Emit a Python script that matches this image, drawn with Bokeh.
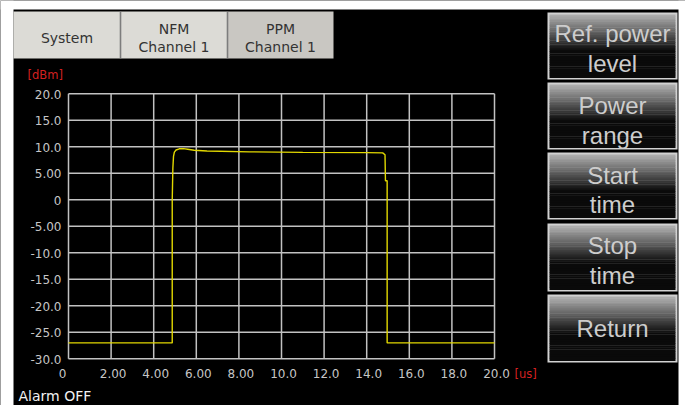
from bokeh.plotting import figure
from bokeh.models import Range1d
from bokeh.core.properties import value
from bokeh.embed import file_html
from bokeh.resources import INLINE

# ---------------- data ----------------
time_us = [0.0, 4.87, 4.87, 4.90, 4.93, 4.97, 5.05, 5.20, 5.40, 5.60, 5.90, 6.50,
           8.50, 11.0, 14.0, 14.75, 14.86, 14.88, 14.96, 14.96, 20.0]
power_dbm = [-27.0, -27.0, 0.0, 6.0, 8.2, 9.0, 9.4, 9.62, 9.65, 9.55, 9.35, 9.2,
             9.05, 8.95, 8.9, 8.85, 8.5, 3.6, 3.6, -27.0, -27.0]

x_ticks = [0, 2, 4, 6, 8, 10, 12, 14, 16, 18, 20]
x_tick_labels = ["0", "2.00", "4.00", "6.00", "8.00", "10.0", "12.0", "14.0", "16.0", "18.0", "20.0"]
y_ticks = [-30, -25, -20, -15, -10, -5, 0, 5, 10, 15, 20]
y_tick_labels = ["-30.0", "-25.0", "-20.0", "-15.0", "-10.0", "-5.00", "0", "5.00", "10.0", "15.0", "20.0"]
y_unit = "[dBm]"
x_unit = "[us]"
status_text = "Alarm OFF"

tab_lines = [["System"], ["NFM", "Channel 1"], ["PPM", "Channel 1"]]
button_lines = [["Ref. power", "level"], ["Power", "range"], ["Start", "time"], ["Stop", "time"], ["Return"]]

# ---------------- layout (canvas pixels, y from top) ----------------
W, H = 685, 405
PL, PR, PT, PB = 68.0, 494.0, 93.3, 358.3      # plot box
T0, T1 = x_ticks[0], x_ticks[-1]
D0, D1 = y_ticks[0], y_ticks[-1]

p = figure(width=W, height=H, title=None, x_range=Range1d(0, W), y_range=Range1d(0, H),
           output_backend="svg", toolbar_location=None, min_border=0,
           x_axis_location=None, y_axis_location=None,
           background_fill_color="black", border_fill_color="black",
           outline_line_color=None)
p.grid.grid_line_color = None

# data scales placed on the plot box
sx = (T1 - T0) / (PR - PL)
sy = (D1 - D0) / (PB - PT)
p.extra_x_ranges = {"t": Range1d(T0 - PL * sx, T1 + (W - PR) * sx)}
p.extra_y_ranges = {"db": Range1d(D0 - (H - PB) * sy, D1 + PT * sy)}
DS = dict(x_range_name="t", y_range_name="db")

GRID = "#c2c2c2"
nx, ny = len(x_ticks), len(y_ticks)
p.segment(x0=x_ticks, y0=[D0] * nx, x1=x_ticks, y1=[D1] * nx,
          line_color=GRID, line_width=1.5, **DS)
p.segment(x0=[T0] * ny, y0=y_ticks, x1=[T1] * ny, y1=y_ticks,
          line_color=GRID, line_width=1.5, **DS)

TICK = "#c6c6c6"
x_label_shift = [-6] + [2] * (nx - 1)
p.text(x=x_ticks, y=[D0] * nx, text=x_tick_labels, text_align="center",
       text_baseline="middle", x_offset=x_label_shift, y_offset=14.5, text_color=TICK,
       text_font=value("DejaVu Sans"), text_font_size=value("12px"), **DS)
p.text(x=[T0] * ny, y=y_ticks, text=y_tick_labels, text_align="right",
       text_baseline="middle", x_offset=-7, y_offset=0.5, text_color=TICK,
       text_font=value("DejaVu Sans"), text_font_size=value("12px"), **DS)

# trace
p.line(time_us, power_dbm, line_color="#e2d800", line_width=1.4, **DS)

# ---------------- decorations ----------------
rects = []   # (left, right, top, bottom, colour), y from top


def rect(l, r, t, b, c):
    rects.append((l, r, t, b, c))


# white page around the instrument screen
rect(0, 13, 0, H, "white")
rect(0, W, 0, 9, "white")
rect(678, W, 0, H, "white")

# tabs
tab_x = [13, 120, 227, 333]
tab_fill = ["#dcdbd6", "#dcdbd6", "#c9c7c2"]
for i in range(3):
    rect(tab_x[i], tab_x[i + 1], 11, 58, tab_fill[i])
for s in tab_x[1:3]:
    rect(s - 0.8, s + 0.8, 11, 58, "#7d7d7d")

# buttons with grey-to-black gradient
btn_top = [12, 82, 152, 223, 294]
btn_bot = [79, 149, 219, 291, 362]
BL, BR = 547, 677
N = 34
for bt, bb in zip(btn_top, btn_bot):
    rect(BL, BR, bt, bb, "#d2d2d2")
    it, ib = bt + 2, bb - 2
    step = (ib - it) / N
    for k in range(N):
        f = (k + 0.5) / N
        g = int(max(10, 178 - 290 * f))
        rect(BL + 2, BR - 2, it + k * step, it + (k + 1) * step + 0.4, "#%02x%02x%02x" % (g, g, g))

p.quad(left=[r[0] for r in rects], right=[r[1] for r in rects],
       top=[H - r[2] for r in rects], bottom=[H - r[3] for r in rects],
       fill_color=[r[4] for r in rects], line_color=None)


def texts(xs, ys, ts, size, color, font="DejaVu Sans", align="center"):
    p.text(x=xs, y=[H - y for y in ys], text=ts, text_align=align, text_baseline="middle",
           text_color=color, text_font=value(font), text_font_size=value(size))


# tab texts
tab_cx = [66.5, 173.5, 280]
tx, ty, tt = [], [], []
for cx, lines in zip(tab_cx, tab_lines):
    ys = [37] if len(lines) == 1 else [28, 46]
    for s, yy in zip(lines, ys):
        tx.append(cx); ty.append(yy); tt.append(s)
texts(tx, ty, tt, "14px", "#333333")

# button texts
btn_text_y = [(33, 63), (105, 135), (175, 204), (245, 275), (328,)]
bx, byy, bt_ = [], [], []
for lines, ys in zip(button_lines, btn_text_y):
    for s, yy in zip(lines, ys):
        bx.append(612); byy.append(yy); bt_.append(s)
texts(bx, byy, bt_, "24px", "#cdcdcd", font="Liberation Sans")

# units and status
texts([27, 514], [74, 373], [y_unit, x_unit], "11.5px", "#d42020", align="left")
texts([18], [395], [status_text], "14px", "#f2f2f2", align="left")

open("out.html", "w").write(file_html(p, INLINE))
